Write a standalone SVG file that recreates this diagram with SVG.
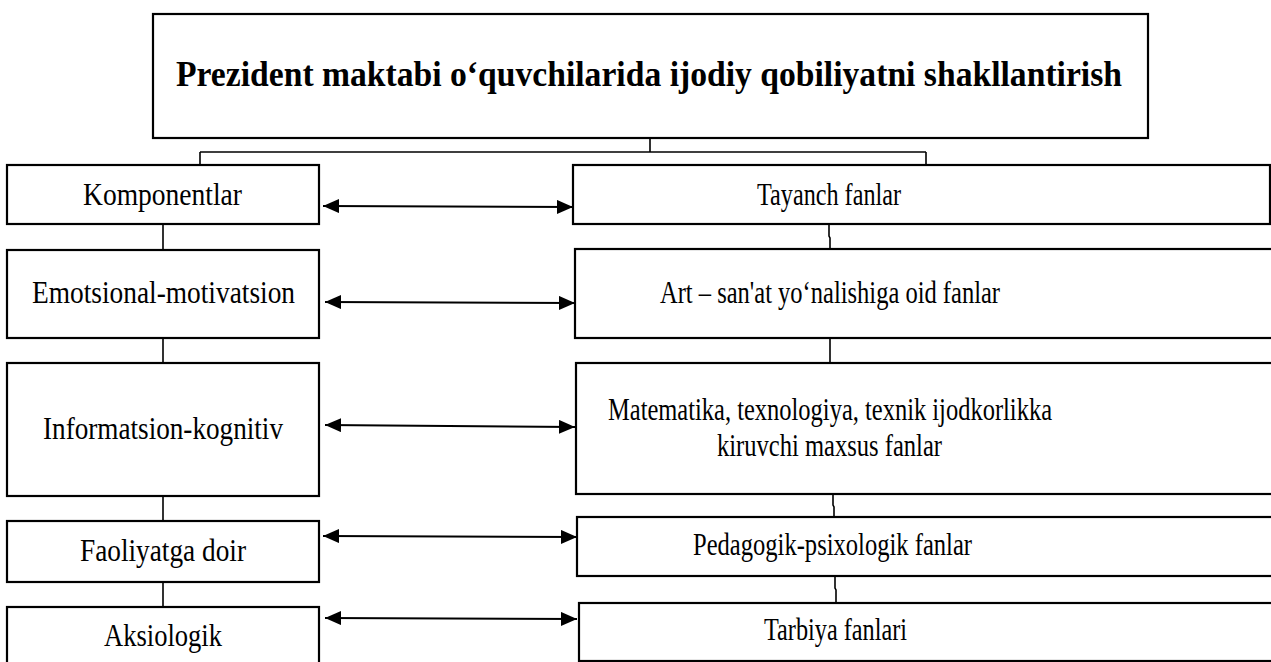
<svg xmlns="http://www.w3.org/2000/svg" width="1271" height="662" viewBox="0 0 1271 662">
<defs>
<marker id="ah" viewBox="0 0 16 14" refX="16" refY="7" markerWidth="16" markerHeight="14" markerUnits="userSpaceOnUse" orient="auto-start-reverse">
<path d="M0,0 L16,7 L0,14 Z" fill="#000"/>
</marker>
<style>
.box{fill:#fff;stroke:#000;stroke-width:2.2}
.t{font-family:"Liberation Serif","Times New Roman",serif;font-size:31px;fill:#000;text-anchor:start}
.title{font-family:"Liberation Serif","Times New Roman",serif;font-size:35px;font-weight:bold;fill:#000}
.ln{fill:none;stroke:#000;stroke-width:1.6}
.ar{fill:none;stroke:#000;stroke-width:2;marker-start:url(#ah);marker-end:url(#ah)}
</style>
</defs>
<rect width="1271" height="662" fill="#fff"/>
<g id="connectors">
<path class="ln" d="M650,139 V152 M200,152 H926 M200,152 V165 M926,152 V165"/>
<path class="ln" d="M163,224 V250 M163,338 V363 M163,496 V521 M163,582 V607"/>
<path class="ln" d="M829,224 V236 L830,238 V249 M830,338 V363 M833,494 V505 L834,507 V517 M835,576 V588 L836,590 V603"/>
<line class="ar" x1="323" y1="206" x2="573" y2="207"/>
<line class="ar" x1="325" y1="302" x2="575" y2="303"/>
<line class="ar" x1="325" y1="425" x2="575" y2="427"/>
<line class="ar" x1="323" y1="536" x2="577" y2="537"/>
<line class="ar" x1="325" y1="618" x2="577" y2="619"/>
</g>
<g id="n-title">
<rect class="box" x="153" y="14" width="995" height="124"/>
<text class="title" x="176" y="86" textLength="946" lengthAdjust="spacingAndGlyphs">Prezident maktabi o‘quvchilarida ijodiy qobiliyatni shakllantirish</text>
</g>
<g id="n-komponentlar">
<rect class="box" x="7" y="165" width="312" height="59"/>
<text class="t" x="83" y="205" textLength="159" lengthAdjust="spacingAndGlyphs">Komponentlar</text>
</g>
<g id="n-emotsional">
<rect class="box" x="7" y="250" width="312" height="88"/>
<text class="t" x="32" y="303" textLength="263" lengthAdjust="spacingAndGlyphs">Emotsional-motivatsion</text>
</g>
<g id="n-informatsion">
<rect class="box" x="7" y="363" width="312" height="133"/>
<text class="t" x="43" y="439" textLength="240" lengthAdjust="spacingAndGlyphs">Informatsion-kognitiv</text>
</g>
<g id="n-faoliyat">
<rect class="box" x="7" y="521" width="312" height="61"/>
<text class="t" x="80" y="561" textLength="166" lengthAdjust="spacingAndGlyphs">Faoliyatga doir</text>
</g>
<g id="n-aksiologik">
<rect class="box" x="7" y="607" width="312" height="60"/>
<text class="t" x="104" y="646" textLength="118" lengthAdjust="spacingAndGlyphs">Aksiologik</text>
</g>
<g id="n-tayanch">
<rect class="box" x="573" y="165" width="697" height="59"/>
<text class="t" x="757" y="205" textLength="144" lengthAdjust="spacingAndGlyphs">Tayanch fanlar</text>
</g>
<g id="n-art">
<rect class="box" x="575" y="249" width="700" height="89"/>
<text class="t" x="660" y="303" textLength="340" lengthAdjust="spacingAndGlyphs">Art – san'at yo‘nalishiga oid fanlar</text>
</g>
<g id="n-matematika">
<rect class="box" x="576" y="363" width="700" height="131"/>
<text class="t" x="608" y="420" textLength="444" lengthAdjust="spacingAndGlyphs">Matematika, texnologiya, texnik ijodkorlikka</text>
<text class="t" x="717" y="456" textLength="225" lengthAdjust="spacingAndGlyphs">kiruvchi maxsus fanlar</text>
</g>
<g id="n-pedagogik">
<rect class="box" x="577" y="517" width="700" height="59"/>
<text class="t" x="693" y="555" textLength="279" lengthAdjust="spacingAndGlyphs">Pedagogik-psixologik  fanlar</text>
</g>
<g id="n-tarbiya">
<rect class="box" x="579" y="603" width="700" height="58"/>
<text class="t" x="764" y="640" textLength="143" lengthAdjust="spacingAndGlyphs">Tarbiya fanlari</text>
</g>
</svg>
